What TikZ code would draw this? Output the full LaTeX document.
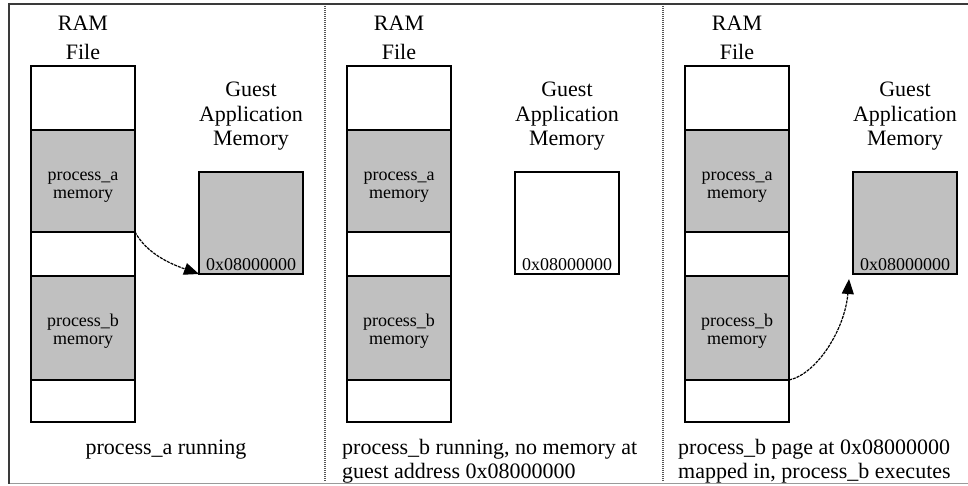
\documentclass[tikz,border=0pt]{standalone}
\usepackage{fontspec}
\setmainfont{Liberation Serif}
\usetikzlibrary{arrows.meta}
\definecolor{memgrey}{HTML}{C0C0C0}
\definecolor{framedark}{HTML}{3A3A3A}
\definecolor{framelight}{HTML}{9A9A9A}
\definecolor{sepgrey}{HTML}{555555}

% One "RAM File" column: titles, five stacked regions and their labels
\newcommand\ramcolumn[1]{%
  \node[title, anchor=base] (ram#1) at (83,31) {RAM};
  \node[title, anchor=base] (file#1) at (83,60) {File};
  \node[seg, minimum height=64pt] (free#1) at (83,98) {};
  \node[seg, used, minimum height=102pt] (pa#1) at (83,181) {};
  \node[seg, minimum height=44pt] (gap#1) at (83,254) {};
  \node[seg, used, minimum height=104pt] (pb#1) at (83,328) {};
  \node[seg, minimum height=42pt] (end#1) at (83,401) {};
  \node[small, anchor=base] (pal#1) at (83,181) {process\_a};
  \node[small, anchor=base] (pam#1) at (83,199) {memory};
  \node[small, anchor=base] (pbl#1) at (83,326) {process\_b};
  \node[small, anchor=base] (pbm#1) at (83,344) {memory};
}
% The guest application memory page; #2 is its fill style
\newcommand\guestpage[2]{%
  \node[title, anchor=base] (gt#1) at (251,97) {Guest};
  \node[title, anchor=base] (ga#1) at (251,122) {Application};
  \node[title, anchor=base] (gm#1) at (251,146) {Memory};
  \node[seg, #2, minimum height=102pt] (g#1) at (251,223) {};
  \node[small, anchor=base] (addr#1) at (251,270) {0x08000000};
}

\begin{document}
\begin{tikzpicture}[x=1pt, y=-1pt,
  seg/.style={draw=black, line width=1.4pt, minimum width=104pt,
              inner sep=0pt, outer sep=0pt, fill=white},
  used/.style={fill=memgrey},
  empty/.style={fill=white},
  title/.style={font=\fontsize{22}{24}\selectfont, inner sep=0pt},
  small/.style={font=\fontsize{18}{16}\selectfont, inner sep=0pt},
  caption/.style={font=\fontsize{22}{24}\selectfont, inner sep=0pt},
  maparrow/.style={line width=1.2pt, dash pattern=on 3pt off 1pt,
                   -{Triangle[length=15pt, width=12pt]}},
  sep/.style={line width=1.3pt, sepgrey, dash pattern=on 1pt off 1pt}
]
\useasboundingbox (0,0) rectangle (968,486);
\fill[white] (0,0) rectangle (968,486);

% outer frame: dark left edge, heavy top rule, light bottom rule
\draw[framedark, line width=2.6pt] (9,4) -- (968,4);
\draw[framelight, line width=1pt] (9,483) -- (968,483);
\draw[framedark, line width=2pt] (9,3) -- (9,484);

% dotted column separators
\draw[sep] (325,6) -- (325,482);
\draw[sep] (663,6) -- (663,482);

% panel 1: process_a running
\begin{scope}
  \ramcolumn{1}
  \guestpage{1}{used}
  \draw[maparrow] (pa1.south east) .. controls +(12,22) and +(-28,-10) .. (g1.south west);
\end{scope}

% panel 2: process_b running, nothing mapped
\begin{scope}[xshift=316pt]
  \ramcolumn{2}
  \guestpage{2}{empty}
\end{scope}

% panel 3: process_b page mapped in
\begin{scope}[xshift=654pt]
  \ramcolumn{3}
  \guestpage{3}{used}
  \coordinate (tip3) at (195,279);
  \draw[maparrow] (pb3.south east) .. controls +(28,-6) and +(-4,50) .. (tip3);
\end{scope}

% captions
\node[caption, anchor=base] (cap1) at (166,454) {process\_a running};
\node[caption, anchor=base west] (cap2a) at (342,454) {process\_b running, no memory at};
\node[caption, anchor=base west] (cap2b) at (342,478) {guest address 0x08000000};
\node[caption, anchor=base west] (cap3a) at (678,454) {process\_b page at 0x08000000};
\node[caption, anchor=base west] (cap3b) at (678,478) {mapped in, process\_b executes};
\end{tikzpicture}
\end{document}
